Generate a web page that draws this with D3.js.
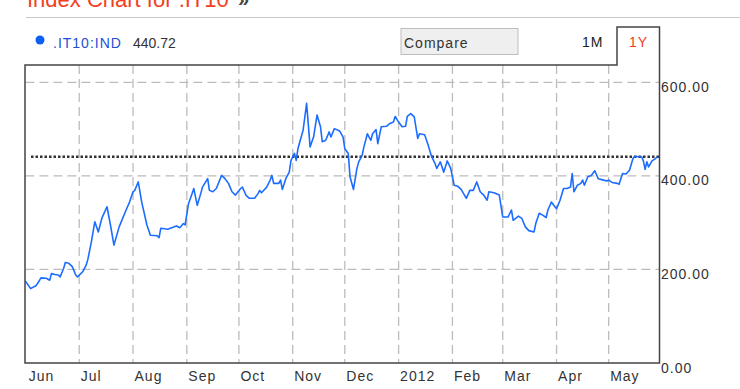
<!DOCTYPE html>
<html>
<head>
<meta charset="utf-8">
<script src="https://cdn.jsdelivr.net/npm/d3@7"></script>
<style>
  body { margin: 0; background: #fff; }
  svg { display: block; font-family: "Liberation Sans", Arial, sans-serif; }
</style>
</head>
<body>
<div id="viz"></div>
<script>
// daily-ish closes
const dates = [
  '2011-05-31','2011-06-03','2011-06-06','2011-06-07','2011-06-09','2011-06-12','2011-06-14','2011-06-15','2011-06-17','2011-06-19','2011-06-20','2011-06-22','2011-06-23','2011-06-25','2011-06-27','2011-06-29','2011-06-30',
  '2011-07-03','2011-07-05','2011-07-06','2011-07-08','2011-07-10','2011-07-12','2011-07-14','2011-07-17','2011-07-19','2011-07-21','2011-07-24','2011-07-28','2011-07-30',
  '2011-08-01','2011-08-02','2011-08-04','2011-08-06','2011-08-09','2011-08-11','2011-08-15','2011-08-16','2011-08-17','2011-08-21','2011-08-24','2011-08-26','2011-08-28','2011-08-30','2011-08-31',
  '2011-09-02','2011-09-04','2011-09-05','2011-09-07','2011-09-09','2011-09-10','2011-09-13','2011-09-14','2011-09-16','2011-09-18','2011-09-21','2011-09-23','2011-09-25','2011-09-27','2011-09-29',
  '2011-10-02','2011-10-03','2011-10-05','2011-10-07','2011-10-10','2011-10-12','2011-10-13','2011-10-14','2011-10-17','2011-10-19','2011-10-20','2011-10-21','2011-10-24','2011-10-25','2011-10-26','2011-10-28','2011-10-30','2011-10-31',
  '2011-11-02','2011-11-03','2011-11-04','2011-11-07','2011-11-09','2011-11-11','2011-11-13','2011-11-15','2011-11-17','2011-11-18','2011-11-20','2011-11-22','2011-11-23','2011-11-25','2011-11-28','2011-11-30',
  '2011-12-01','2011-12-03','2011-12-04','2011-12-06','2011-12-08','2011-12-09','2011-12-11','2011-12-12','2011-12-14','2011-12-16','2011-12-17','2011-12-19','2011-12-20','2011-12-22','2011-12-25','2011-12-27','2011-12-29','2011-12-30',
  '2012-01-01','2012-01-03','2012-01-05','2012-01-06','2012-01-08','2012-01-10','2012-01-12','2012-01-13','2012-01-16','2012-01-18','2012-01-20','2012-01-22','2012-01-23','2012-01-25','2012-01-27','2012-01-29','2012-01-31',
  '2012-02-02','2012-02-04','2012-02-06','2012-02-09','2012-02-11','2012-02-13','2012-02-15','2012-02-17','2012-02-19','2012-02-21','2012-02-22','2012-02-25','2012-02-28',
  '2012-03-01','2012-03-04','2012-03-06','2012-03-07','2012-03-10','2012-03-12','2012-03-14','2012-03-16','2012-03-19','2012-03-20','2012-03-22','2012-03-24','2012-03-26','2012-03-27','2012-03-29','2012-03-31',
  '2012-04-01','2012-04-03','2012-04-05','2012-04-07','2012-04-09','2012-04-10','2012-04-11','2012-04-13','2012-04-15','2012-04-16','2012-04-17','2012-04-19','2012-04-21','2012-04-23','2012-04-25','2012-04-27','2012-04-30',
  '2012-05-01','2012-05-03','2012-05-06','2012-05-07','2012-05-09','2012-05-11','2012-05-13','2012-05-15','2012-05-16','2012-05-18','2012-05-20','2012-05-21','2012-05-22','2012-05-23','2012-05-24','2012-05-26','2012-05-28','2012-05-29'
];

const values = [
  175,159,165,170,182,181,177,191,189,188,184,202,215,213,206,188,184,
  195,209,222,259,302,280,309,334,295,252,291,327,344,
  366,369,387,344,295,273,272,268,288,286,290,293,289,298,295,
  341,362,373,337,362,376,394,369,366,373,401,394,384,366,359,
  373,376,359,352,352,362,369,364,376,391,401,384,384,391,371,394,408,433,
  448,433,458,498,555,462,483,530,505,473,476,494,483,501,496,483,
  458,448,398,371,416,430,444,462,490,476,490,499,469,505,506,512,515,527,
  515,505,506,527,533,526,480,490,488,466,441,426,416,430,408,432,416,
  380,378,371,352,369,369,387,366,359,348,366,364,359,
  312,312,327,305,314,309,291,283,280,298,320,316,311,327,344,334,
  330,348,373,373,376,405,366,380,384,391,380,398,401,411,394,392,389,
  391,386,384,382,405,404,412,437,442,441,441,432,414,430,419,432,437,440.72
];

const lastValue = 440.72;
const symbol = '.IT10:IND';
const yTicks = [0, 200, 400, 600];
const rangeButtons = ['1M', '1Y'];

const parse = d3.timeParse('%Y-%m-%d');
let series = dates.map((d, i) => ({ date: parse(d), value: values[i] }));

let W = 740, H = 389;
let plot = { left: 25.4, right: 659, top: 65, bottom: 363 };

let svg = d3.select('#viz').append('svg')
  .attr('width', W)
  .attr('height', H);

let x = d3.scaleTime()
  .domain([parse('2011-05-31'), parse('2012-05-30')])
  .range([plot.left, plot.right]);

let y = d3.scaleLinear()
  .domain([0, 600])
  .range([plot.bottom, 82.3]);

// header
svg.append('text')
  .text('Index Chart for .IT10')
  .attr('x', 27)
  .attr('y', 7)
  .style('font-size', '22px')
  .attr('fill', '#f2401e');

svg.append('text')
  .text('»')
  .attr('x', 238)
  .attr('y', 6)
  .style('font-size', '20px')
  .style('font-weight', 'bold')
  .attr('fill', '#444');

svg.append('line')
  .attr('x1', 26).attr('x2', W)
  .attr('y1', 17.5).attr('y2', 17.5)
  .attr('stroke', '#c8c8c8');

// legend
svg.append('circle')
  .attr('cx', 40).attr('cy', 40).attr('r', 4.5)
  .attr('fill', '#0d5ff2');

svg.append('text')
  .text(symbol)
  .attr('x', 53).attr('y', 47.5)
  .style('font-size', '14px')
  .style('letter-spacing', '1px')
  .attr('fill', '#1d4fd6');

svg.append('text')
  .text(d3.format('.2f')(lastValue))
  .attr('x', 133).attr('y', 47.5)
  .style('font-size', '14px')
  .attr('fill', '#333');

// compare box
svg.append('rect')
  .attr('x', 401).attr('y', 28.5)
  .attr('width', 117).attr('height', 26)
  .attr('fill', '#efefef')
  .attr('stroke', '#bdbdbd');

svg.append('text')
  .text('Compare')
  .attr('x', 404).attr('y', 48)
  .style('font-size', '14px')
  .style('letter-spacing', '1px')
  .attr('fill', '#333');

svg.append('text')
  .text(rangeButtons[0])
  .attr('x', 582).attr('y', 47)
  .style('font-size', '14px')
  .style('letter-spacing', '1px')
  .attr('fill', '#222');

svg.append('text')
  .text(rangeButtons[1])
  .attr('x', 629).attr('y', 47)
  .style('font-size', '14px')
  .style('letter-spacing', '1px')
  .attr('fill', '#f2401e');

// grid
let monthTicks = x.ticks(d3.timeMonth.every(1));

svg.append('g')
  .selectAll('line')
  .data(monthTicks.slice(1))
  .join('line')
  .attr('x1', d => x(d)).attr('x2', d => x(d))
  .attr('y1', plot.top).attr('y2', plot.bottom)
  .attr('stroke', '#bcbcbc')
  .attr('stroke-width', 1.3)
  .attr('stroke-dasharray', '9,5');

svg.append('g')
  .selectAll('line')
  .data(yTicks.filter(d => d > 0))
  .join('line')
  .attr('x1', plot.left).attr('x2', plot.right)
  .attr('y1', d => y(d)).attr('y2', d => y(d))
  .attr('stroke', '#bcbcbc')
  .attr('stroke-width', 1.3)
  .attr('stroke-dasharray', '9,5');

// last value reference
svg.append('line')
  .attr('x1', 31).attr('x2', plot.right)
  .attr('y1', y(lastValue)).attr('y2', y(lastValue))
  .attr('stroke', '#333')
  .attr('stroke-width', 2.5)
  .attr('stroke-dasharray', '2.5,2');

// price line
let valueline = d3.line()
  .x(d => x(d.date))
  .y(d => y(d.value));

svg.append('path')
  .datum(series)
  .attr('d', valueline)
  .attr('fill', 'none')
  .attr('stroke', '#1c6dff')
  .attr('stroke-width', 1.6)
  .attr('stroke-linejoin', 'round');

// frame with the 1Y tab
svg.append('path')
  .attr('d', `M25,${plot.bottom} L25,${plot.top} L617,${plot.top} L617,27 L659.5,27 L659.5,${plot.bottom} Z`)
  .attr('fill', 'none')
  .attr('stroke', '#444')
  .attr('stroke-width', 1.5);

// axes
let fmtMonth = d => d.getMonth() === 0 ? d3.timeFormat('%Y')(d) : d3.timeFormat('%b')(d);

let xAxis = svg.append('g')
  .attr('transform', `translate(0,${plot.bottom})`)
  .call(d3.axisBottom(x).tickValues(monthTicks).tickFormat(fmtMonth).tickSize(0));

xAxis.select('.domain').remove();
xAxis.selectAll('text')
  .attr('text-anchor', 'start')
  .attr('x', 1)
  .attr('y', 18)
  .attr('dy', null)
  .style('font-size', '14px')
  .style('letter-spacing', '1px')
  .attr('fill', '#333');

let yAxis = svg.append('g')
  .attr('transform', `translate(${plot.right},0)`)
  .call(d3.axisRight(y).tickValues(yTicks).tickFormat(d3.format('.2f')).tickSize(0).tickPadding(2));

yAxis.select('.domain').remove();
yAxis.selectAll('text')
  .attr('dy', 9)
  .style('font-size', '14px')
  .style('letter-spacing', '1px')
  .attr('fill', '#333');
</script>
</body>
</html>
